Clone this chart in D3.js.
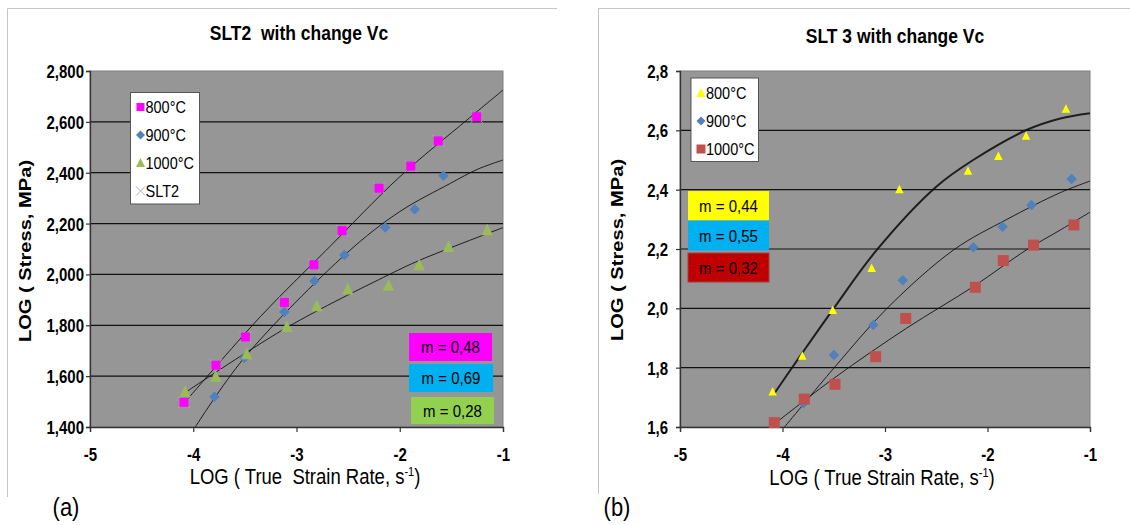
<!DOCTYPE html>
<html>
<head>
<meta charset="utf-8">
<script src="https://cdn.jsdelivr.net/npm/d3@7"></script>
<style>
  html, body { margin: 0; padding: 0; background: #fff; }
  svg { display: block; font-family: "Liberation Sans", Arial, sans-serif; }
  svg text { white-space: pre; }
</style>
</head>
<body>
<svg id="fig" width="1130" height="525"></svg>
<script>
// ---- shared x axis ----
const xTicks = [-5, -4, -3, -2, -1];
const xTickLabels = ["-5", "-4", "-3", "-2", "-1"];
const yTitle = "LOG ( Stress, MPa)";

// ---- panel (a): SLT2 ----
const aTitle = "SLT2  with change Vc";
const aXTitle = "LOG ( True  Strain Rate, s";
const aYTicks = [1.4, 1.6, 1.8, 2.0, 2.2, 2.4, 2.6, 2.8];
const aYTickLabels = ["1,400", "1,600", "1,800", "2,000", "2,200", "2,400", "2,600", "2,800"];
const aLegend = ["800°C", "900°C", "1000°C", "SLT2"];
const aSlopes = ["m = 0,48", "m = 0,69", "m = 0,28"];

const a800 = [[-4.09, 1.497], [-3.78, 1.643], [-3.495, 1.754], [-3.117, 1.890], [-2.832, 2.038],
              [-2.558, 2.172], [-2.20, 2.339], [-1.893, 2.426], [-1.627, 2.525], [-1.255, 2.620]];
const a900 = [[-3.795, 1.519], [-3.505, 1.672], [-3.117, 1.852], [-2.827, 1.974], [-2.536, 2.076],
              [-2.141, 2.185], [-1.855, 2.256], [-1.577, 2.388]];
const a1000 = [[-4.079, 1.539], [-3.782, 1.598], [-3.482, 1.687], [-3.094, 1.794], [-2.803, 1.876],
               [-2.503, 1.941], [-2.109, 1.956], [-1.812, 2.037], [-1.528, 2.109], [-1.153, 2.174]];
const aSLT2 = [[-4.09, 1.497], [-3.78, 1.643], [-3.495, 1.754], [-3.117, 1.890], [-2.832, 2.038],
               [-2.558, 2.172], [-2.20, 2.339], [-1.893, 2.426], [-1.627, 2.525], [-1.255, 2.620]];

// trend curves (knots along each fitted curve)
const aFit800 = [[-4.09, 1.493], [-3.35, 1.834], [-2.71, 2.096], [-2.0, 2.384], [-1.35, 2.607], [-1.0, 2.725]];
const aFit900 = [[-3.98, 1.40], [-3.51, 1.670], [-2.51, 2.085], [-2.0, 2.247], [-1.51, 2.358], [-1.25, 2.413], [-1.0, 2.45]];
const aFit1000 = [[-4.08, 1.535], [-3.09, 1.792], [-2.11, 1.998], [-1.80, 2.057], [-1.0, 2.184]];

// ---- panel (b): SLT 3 ----
const bTitle = "SLT 3 with change Vc";
const bXTitle = "LOG ( True Strain Rate, s";
const bYTicks = [1.6, 1.8, 2.0, 2.2, 2.4, 2.6, 2.8];
const bYTickLabels = ["1,6", "1,8", "2,0", "2,2", "2,4", "2,6", "2,8"];
const bLegend = ["800°C", "900°C", "1000°C"];
const bSlopes = ["m = 0,44", "m = 0,55", "m = 0,32"];

const b800 = [[-4.096, 1.719], [-3.807, 1.840], [-3.51, 1.994], [-3.13, 2.135], [-2.86, 2.401],
              [-2.19, 2.463], [-1.894, 2.513], [-1.624, 2.581], [-1.235, 2.672]];
const b900 = [[-3.797, 1.680], [-3.498, 1.843], [-3.114, 1.944], [-2.827, 2.095], [-2.138, 2.206],
              [-1.853, 2.275], [-1.571, 2.348], [-1.18, 2.436]];
const b1000 = [[-4.08, 1.615], [-3.787, 1.694], [-3.488, 1.744], [-3.091, 1.837], [-2.798, 1.966],
               [-2.119, 2.071], [-1.846, 2.161], [-1.551, 2.213], [-1.157, 2.281]];

const bFit800 = [[-4.09, 1.708], [-3.81, 1.848], [-3.50, 2.0], [-3.08, 2.197], [-2.50, 2.41],
                 [-2.14, 2.50], [-1.62, 2.601], [-1.29, 2.64], [-1.0, 2.658]];
const bFit900 = [[-3.98, 1.60], [-3.50, 1.798], [-2.98, 2.0], [-2.33, 2.197], [-1.81, 2.30], [-1.29, 2.39], [-1.0, 2.429]];
const bFit1000 = [[-4.09, 1.607], [-3.50, 1.764], [-2.79, 1.933], [-2.14, 2.073], [-1.62, 2.197], [-1.29, 2.264], [-1.0, 2.324]];

const svg = d3.select("#fig");
const SY = 1.15; // text is drawn slightly tall

function stretchedText(g, x, y, str, opts) {
  const t = g.append("text")
    .attr("transform", `translate(${x},${y}) scale(1,${opts.sy || SY})`)
    .attr("text-anchor", opts.anchor || "middle")
    .attr("font-size", opts.size)
    .attr("font-weight", opts.weight || "normal")
    .attr("fill", opts.fill || "#000")
    .text(str);
  return t;
}

function marker(g, shape, x, y, s, fill) {
  if (shape === "square") {
    g.append("rect").attr("x", x - s / 2).attr("y", y - s / 2).attr("width", s).attr("height", s).attr("fill", fill);
  } else if (shape === "diamond") {
    g.append("path").attr("d", `M${x},${y - s / 2}L${x + s / 2},${y}L${x},${y + s / 2}L${x - s / 2},${y}Z`).attr("fill", fill);
  } else if (shape === "triangle") {
    g.append("path").attr("d", `M${x},${y - s * 0.55}L${x + s / 2},${y + s * 0.45}L${x - s / 2},${y + s * 0.45}Z`).attr("fill", fill);
  } else if (shape === "cross") {
    const h = s / 2;
    g.append("path").attr("d", `M${x - h},${y - h}L${x + h},${y + h}M${x + h},${y - h}L${x - h},${y + h}`)
      .attr("stroke", fill).attr("stroke-width", 1).attr("fill", "none");
  }
}

function drawPanel(cfg) {
  const g = svg.append("g");
  // panel frame (left and top edges)
  g.append("path").attr("d", cfg.frame).attr("fill", "none").attr("stroke", "#c4c4c4").attr("stroke-width", 1);

  const x = d3.scaleLinear().domain([-5, -1]).range([cfg.x0, cfg.x1]);
  const y = d3.scaleLinear().domain(cfg.yDomain).range([cfg.y1, cfg.y0]);

  // plot area
  g.append("rect").attr("x", cfg.x0).attr("y", cfg.y0).attr("width", cfg.x1 - cfg.x0).attr("height", cfg.y1 - cfg.y0)
    .attr("fill", "#969696").attr("stroke", "#808080").attr("stroke-width", 1);

  // gridlines
  g.append("g").selectAll("line").data(cfg.yTicks.slice(1, -1)).join("line")
    .attr("x1", cfg.x0).attr("x2", cfg.x1).attr("y1", d => y(d)).attr("y2", d => y(d))
    .attr("stroke", "#111").attr("stroke-width", 1.2);

  // axes
  const yAxis = g.append("g").attr("transform", `translate(${cfg.x0},0)`)
    .call(d3.axisLeft(y).tickValues(cfg.yTicks).tickSize(4).tickPadding(cfg.yPad)
      .tickFormat((d, i) => cfg.yTickLabels[i]));
  const xAxis = g.append("g").attr("transform", `translate(0,${cfg.y1})`)
    .call(d3.axisBottom(x).tickValues(xTicks).tickSize(5).tickPadding(12)
      .tickFormat((d, i) => xTickLabels[i]));
  [yAxis, xAxis].forEach(ax => {
    ax.select(".domain").attr("stroke", "#333").attr("stroke-width", 1.3);
    ax.selectAll(".tick line").attr("stroke", "#333").attr("stroke-width", 1.2);
    ax.selectAll(".tick text").attr("font-family", "Liberation Sans, Arial, sans-serif")
      .attr("font-size", 15).attr("font-weight", "bold").attr("fill", "#000");
  });
  yAxis.selectAll(".tick text").attr("dy", null).attr("y", 0)
    .attr("transform", `translate(0,6.5) scale(1,1.22)`);
  xAxis.selectAll(".tick text").attr("dy", null).attr("y", 0)
    .attr("transform", `translate(0,${cfg.xTickBase}) scale(1,1.22)`);

  // clip for curves
  const clipId = "clip" + cfg.id;
  g.append("clipPath").attr("id", clipId).append("rect")
    .attr("x", cfg.x0).attr("y", cfg.y0).attr("width", cfg.x1 - cfg.x0).attr("height", cfg.y1 - cfg.y0);

  const line = d3.line().x(d => x(d[0])).y(d => y(d[1])).curve(d3.curveCatmullRom.alpha(0.5));
  const curves = g.append("g").attr("clip-path", `url(#${clipId})`);
  const marks = g.append("g");

  cfg.series.forEach(s => {
    s.data.forEach(d => marker(marks, s.shape, x(d[0]), y(d[1]), s.size, s.color));
  });
  cfg.fits.forEach(f => {
    curves.append("path").attr("d", line(f.data)).attr("fill", "none")
      .attr("stroke", "#111").attr("stroke-width", f.width).attr("stroke-opacity", 0.9);
  });

  // legend
  const lg = g.append("g");
  lg.append("rect").attr("x", cfg.legend.x).attr("y", cfg.legend.y).attr("width", cfg.legend.w).attr("height", cfg.legend.h)
    .attr("fill", "#fff").attr("stroke", "#555").attr("stroke-width", 1);
  cfg.legend.items.forEach((it, i) => {
    const cy = cfg.legend.y + cfg.legend.first + i * cfg.legend.step;
    marker(lg, it.shape, cfg.legend.x + cfg.legend.mx, cy, it.size, it.color);
    stretchedText(lg, cfg.legend.x + cfg.legend.tx, cy + 5.5, it.label, { anchor: "start", size: 14.5 });
  });

  // slope boxes
  cfg.slopes.forEach(b => {
    g.append("rect").attr("x", b.x).attr("y", b.y).attr("width", b.w).attr("height", b.h).attr("fill", b.color)
      .attr("stroke", b.stroke || "none");
    stretchedText(g, b.x + b.w / 2, b.y + b.h / 2 + 6, b.label, { size: 15 });
  });

  // titles
  stretchedText(g, cfg.titleX, cfg.titleY, cfg.title, { size: 17.5, weight: "bold" });
  const xt = stretchedText(g, cfg.xTitleX, cfg.xTitleY, "", { size: 18.5 });
  xt.append("tspan").text(cfg.xTitle);
  xt.append("tspan").attr("font-size", 11).attr("dy", -7).text("-1");
  xt.append("tspan").attr("dy", 7).text(")");
  g.append("text")
    .attr("transform", `translate(${cfg.yTitleX},${cfg.yTitleY}) rotate(-90) scale(1.22,1)`)
    .attr("text-anchor", "middle").attr("font-size", 16.5).attr("font-weight", "bold").text(yTitle);
  stretchedText(g, cfg.tagX, cfg.tagY, cfg.tag, { size: 22 });
}

drawPanel({
  id: "a", frame: "M557,8.5H7.5V497",
  x0: 90, x1: 503, y0: 71, y1: 427, yDomain: [1.4, 2.8],
  yTicks: aYTicks, yTickLabels: aYTickLabels, xTickBase: 34, yPad: 2,
  series: [
    { data: aSLT2, shape: "cross", size: 12, color: "#b7a6cf" },
    { data: a800, shape: "square", size: 9, color: "#ff00ff" },
    { data: a900, shape: "diamond", size: 10.5, color: "#4f81bd" },
    { data: a1000, shape: "triangle", size: 11.5, color: "#9bbb59" }
  ],
  fits: [{ data: aFit800, width: 1 }, { data: aFit900, width: 1 }, { data: aFit1000, width: 1 }],
  legend: {
    x: 130.5, y: 92.5, w: 69, h: 111.5, first: 14.5, step: 28, mx: 10, tx: 15,
    items: [
      { label: aLegend[0], shape: "square", size: 8, color: "#ff00ff" },
      { label: aLegend[1], shape: "diamond", size: 9, color: "#4f81bd" },
      { label: aLegend[2], shape: "triangle", size: 9, color: "#9bbb59" },
      { label: aLegend[3], shape: "cross", size: 9, color: "#b7a6cf" }
    ]
  },
  slopes: [
    { x: 409, y: 333, w: 83, h: 28, color: "#ff00ff", label: aSlopes[0] },
    { x: 409, y: 364, w: 84, h: 28, color: "#00b0f0", label: aSlopes[1] },
    { x: 411, y: 397, w: 83, h: 27, color: "#92d050", label: aSlopes[2] }
  ],
  title: aTitle, titleX: 299, titleY: 40, xTitle: aXTitle,
  xTitleX: 305, xTitleY: 484, yTitleX: 31, yTitleY: 251,
  tag: "(a)", tagX: 66, tagY: 516
});

drawPanel({
  id: "b", frame: "M1130,8.5H598.5V494",
  x0: 680, x1: 1090, y0: 71, y1: 427, yDomain: [1.6, 2.8],
  yTicks: bYTicks, yTickLabels: bYTickLabels, xTickBase: 34, yPad: 8,
  series: [
    { data: b800, shape: "triangle", size: 8.5, color: "#ffff00" },
    { data: b900, shape: "diamond", size: 10.5, color: "#4f81bd" },
    { data: b1000, shape: "square", size: 11, color: "#c0504d" }
  ],
  fits: [{ data: bFit800, width: 2 }, { data: bFit900, width: 1 }, { data: bFit1000, width: 1 }],
  legend: {
    x: 691, y: 78, w: 67.5, h: 83.5, first: 15, step: 28, mx: 10, tx: 15,
    items: [
      { label: bLegend[0], shape: "triangle", size: 9, color: "#ffff00" },
      { label: bLegend[1], shape: "diamond", size: 9, color: "#4f81bd" },
      { label: bLegend[2], shape: "square", size: 9, color: "#c0504d" }
    ]
  },
  slopes: [
    { x: 688, y: 191, w: 81, h: 29.5, color: "#ffff00", label: bSlopes[0] },
    { x: 688, y: 220.5, w: 81, h: 30, color: "#00b0f0", label: bSlopes[1] },
    { x: 688, y: 253, w: 81, h: 29, color: "#c00000", stroke: "#a04040", label: bSlopes[2] }
  ],
  title: bTitle, titleX: 895, titleY: 43, xTitle: bXTitle,
  xTitleX: 882, xTitleY: 485, yTitleX: 623, yTitleY: 250,
  tag: "(b)", tagX: 617, tagY: 516
});
</script>
</body>
</html>
